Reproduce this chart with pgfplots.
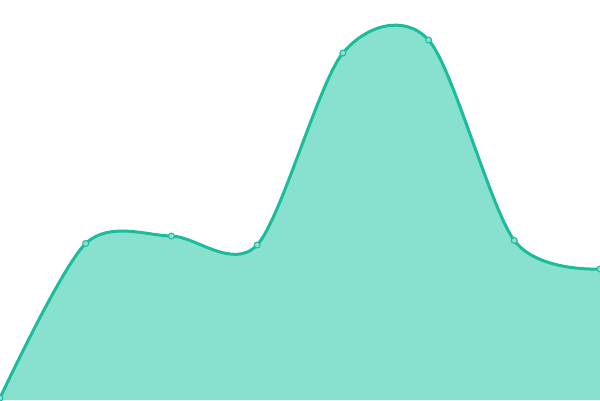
\documentclass[border=0pt]{standalone}
\usepackage{pgfplots}
\pgfplotsset{compat=1.18}
\definecolor{lineteal}{HTML}{1ABC9C}
\definecolor{fillteal}{HTML}{88E0CF}
\begin{document}
\begin{tikzpicture}
\begin{axis}[
    width=600pt, height=400pt,
    scale only axis,
    hide axis,
    xmin=0, xmax=600,
    ymin=0, ymax=400,
    clip=false,
]
\addplot[fill=fillteal, draw=none, smooth, tension=0.5] coordinates {
    (0,2) (85.7,156.5) (171.4,164) (257.1,155) (342.9,347) (428.6,360) (514.3,159.5) (600,131)
} \closedcycle;
\addplot[lineteal, line width=3pt, smooth, tension=0.5,
    mark=*, mark size=3pt,
    mark options={fill=fillteal, draw=lineteal, line width=1pt}] coordinates {
    (0,2) (85.7,156.5) (171.4,164) (257.1,155) (342.9,347) (428.6,360) (514.3,159.5) (600,131)
};
\coordinate (sw) at (rel axis cs:0,0);
\coordinate (ne) at (rel axis cs:1,1);
\end{axis}
\pgfresetboundingbox
\path (sw) rectangle (ne);
\end{tikzpicture}
\end{document}
